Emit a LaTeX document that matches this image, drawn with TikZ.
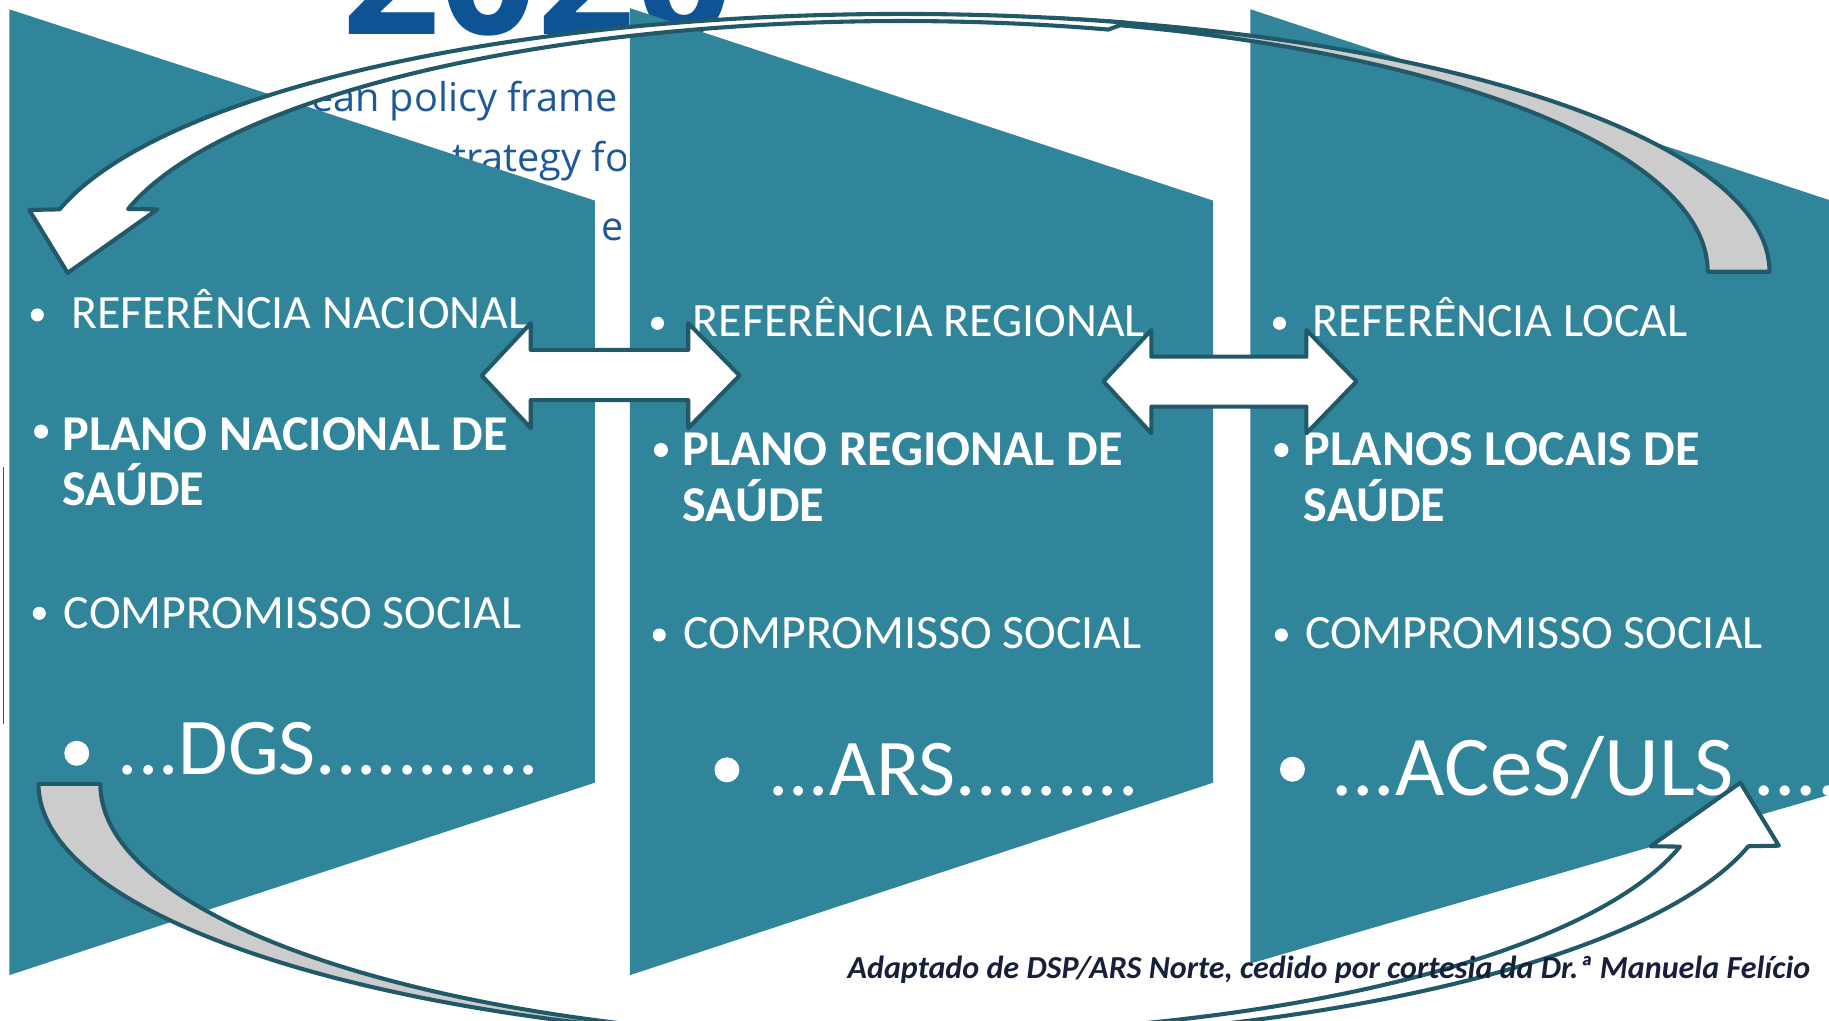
\documentclass[tikz,border=0pt]{standalone}
\usepackage{fontspec}
\setmainfont{Carlito}
\newfontfamily\bgfont{Open Sans}
\definecolor{panelc}{RGB}{49,133,155}
\definecolor{edgec}{RGB}{33,89,104}
\definecolor{backc}{RGB}{204,204,204}
\definecolor{capc}{RGB}{23,32,58}
\definecolor{bgblue}{RGB}{14,84,148}
\definecolor{bgtext}{RGB}{30,88,152}
\tikzset{
  panel/.style={fill=panelc},
  ribbon/.style={draw=edgec, line width=3.5pt, line join=round},
  lrarrow/.style={draw=edgec, fill=white, line width=3.5pt, line join=round},
  reg/.style={text=white, inner sep=0pt, anchor=base west, font=\fontsize{41}{47}\selectfont},
  boldtxt/.style={text=white, inner sep=0pt, anchor=base west, font=\fontsize{43}{47}\selectfont\bfseries},
  bigtxt/.style={text=white, inner sep=0pt, anchor=base west, font=\fontsize{69}{80}\selectfont},
  bgtxt/.style={text=bgtext, inner sep=0pt, anchor=base west, font=\bgfont\fontsize{34}{40}\selectfont},
  dot/.style={fill=white},
}
\newcommand\ribbonarrow{%
  \filldraw[ribbon, fill=backc] (1517,642) arc[start angle=0,end angle=80,x radius=744pt,y radius=221pt]
     -- (893,858.2) arc[start angle=80,end angle=0,x radius=691pt,y radius=219.5pt] -- cycle;
  \filldraw[ribbon, fill=white] (51.1,695.5) -- (25,695) -- (58,641) -- (135,695.5) -- (109.8,695.8)
     arc[start angle=165.5,end angle=75,x radius=685pt,y radius=215pt]
     -- (965.6,855.5) arc[start angle=75,end angle=166,x radius=744pt,y radius=221pt] -- cycle;
}
\begin{document}
\begin{tikzpicture}[x=1pt,y=1pt]
\useasboundingbox (0,0) rectangle (1568,875);
\clip (0,0) rectangle (1568,875);
\fill[white] (0,0) rectangle (1568,875);
% background picture fragments
\node[text=bgblue, inner sep=0pt, anchor=base west, font=\bgfont\bfseries\fontsize{147}{150}\selectfont] (yr) at (293,845) {2020};
\begin{scope}
  \clip (0,0) rectangle (536,875);
  \node[bgtxt] (bg1) at (285.5,779) {\llap{pe}an policy frame};
  \node[bgtxt] (bg2) at (387.5,728) {trategy fo};
  \node[bgtxt] (bg3) at (515.5,669) {e};
\end{scope}
\draw[line width=1.5pt, draw={rgb,255:red,70;green,85;blue,80}] (3,475) -- (3,254);
% panels
\fill[panel] (8,867) -- (510,703) -- (510,204) -- (8,39) -- cycle;
\fill[panel] (540,868) -- (1040,703) -- (1040,204) -- (540,39) -- cycle;
\fill[panel] (1072,867) -- (1580,699.6) -- (1580,197) -- (1072,49) -- cycle;
% panel 1 texts
\fill[dot] (32,605) circle (5.6);
\node[reg] (ref1) at (61,593.5) {REFERÊNCIA NACIONAL};
\fill[dot] (35.2,505) circle (6);
\node[boldtxt] (pl1) at (53.5,489.2) {PLANO NACIONAL DE};
\node[boldtxt] (sa1) at (53.5,442) {SAÚDE};
\fill[dot] (33.7,349.2) circle (5.6);
\node[reg] (cs1) at (54.6,336.4) {COMPROMISSO SOCIAL};
\fill[dot] (65.8,229.2) circle (10.7);
\node[bigtxt] (org1) at (100.8,210.6) {...DGS...........};
% panel 2 texts
\fill[dot] (563.7,597.8) circle (5.6);
\node[reg] (ref2) at (593.8,586.4) {REFERÊNCIA REGIONAL};
\fill[dot] (566.6,489.2) circle (6);
\node[boldtxt] (pl2) at (585,475.8) {PLANO REGIONAL DE};
\node[boldtxt] (sa2) at (585,427.8) {SAÚDE};
\fill[dot] (565.2,330.6) circle (5.6);
\node[reg] (cs2) at (586,319.2) {COMPROMISSO SOCIAL};
\fill[dot] (623.2,215) circle (10.7);
\node[bigtxt] (org2) at (658.4,192.6) {...ARS.........};
% panel 3 texts
\fill[dot] (1096.9,597.8) circle (5.6);
\node[reg] (ref3) at (1125.1,586.4) {REFERÊNCIA LOCAL};
\fill[dot] (1098.5,489.2) circle (6);
\node[boldtxt] (pl3) at (1117.6,475.8) {PLANOS LOCAIS DE};
\node[boldtxt] (sa3) at (1117.6,427.8) {SAÚDE};
\fill[dot] (1098.5,330.6) circle (5.6);
\node[reg] (cs3) at (1118.6,319.2) {COMPROMISSO SOCIAL};
\fill[dot] (1108,215.5) circle (10.7);
\node[bigtxt, font=\fontsize{73}{80}\selectfont] (org3) at (1140.9,192.6) {...ACeS/ULS ....};
% left-right arrows
\filldraw[lrarrow] (413,553) -- (455,598) -- (455,575) -- (590,575) -- (590,598) -- (634,553)
   -- (590,508) -- (590,532) -- (455,532) -- (455,508) -- cycle;
\filldraw[lrarrow] (946,548) -- (987,592) -- (987,569.2) -- (1120,569.2) -- (1120,592) -- (1163,548)
   -- (1120,503.5) -- (1120,526.4) -- (987,526.4) -- (987,503.5) -- cycle;
% curved arrows
\begin{scope}
  \ribbonarrow
\end{scope}
\begin{scope}[rotate around={180:(775,422.5)}]
  \ribbonarrow
\end{scope}
% caption
\node[text=capc, inner sep=0pt, anchor=base west, font=\fontsize{27.5}{30}\selectfont\bfseries\itshape] (cap) at (726.5,36.3) {Adaptado de DSP/ARS Norte, cedido por cortesia da Dr.ª Manuela Felício};
\end{tikzpicture}
\end{document}
